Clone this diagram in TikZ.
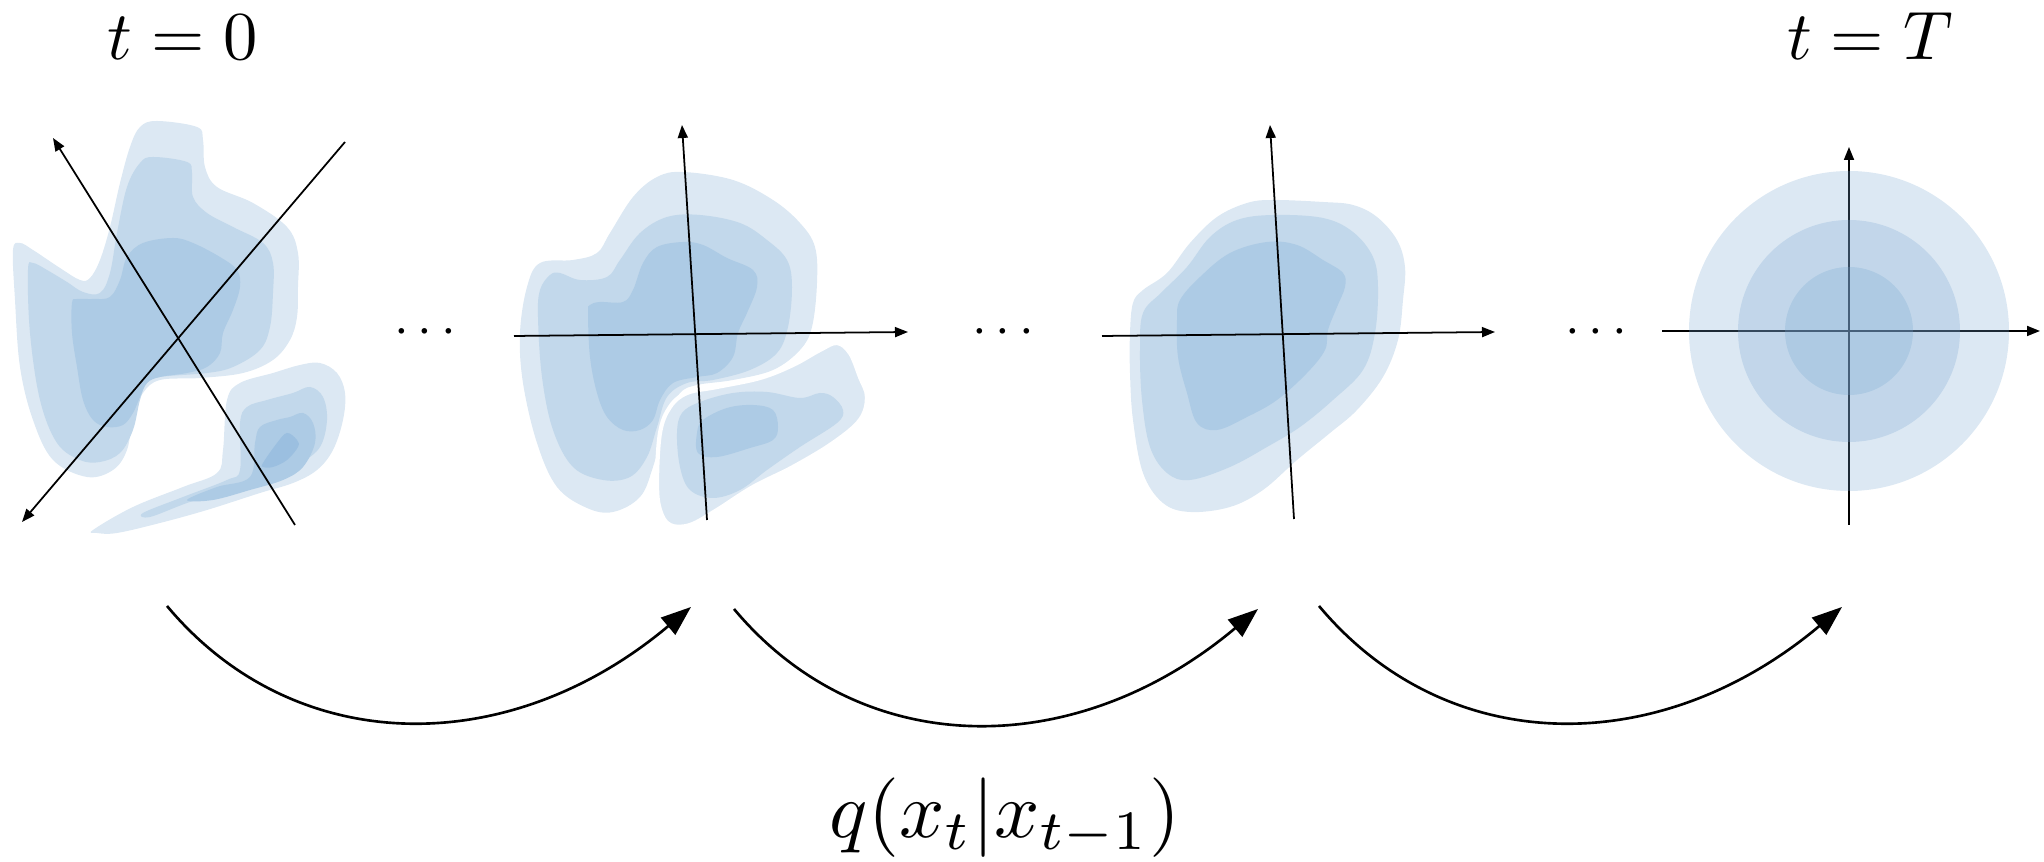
\documentclass[tikz,border=0pt]{standalone}
\usetikzlibrary{arrows.meta}
\definecolor{bA}{RGB}{220,232,243}
\definecolor{bB}{RGB}{194,216,235}
\definecolor{bC}{RGB}{173,203,229}
\definecolor{bD}{RGB}{155,191,224}
\definecolor{bL}{RGB}{119,165,208}
\begin{document}
\begin{tikzpicture}[x=0.01cm,y=-0.01cm,
  axis/.style={line width=0.5pt,-{Triangle[length=0.13cm,width=0.1cm]}},
  qarrow/.style={line width=0.75pt,-{Triangle[length=0.3cm,width=0.22cm]}},
  lab/.style={scale=1.95,inner sep=0pt},
  qlab/.style={scale=2.26,inner sep=0pt},
  dotsn/.style={scale=1.5,inner sep=0pt},
  ring/.style={fill=bL,fill opacity=0.257},
  blob/.style={smooth cycle,tension=0.6}]
\useasboundingbox (0,0) rectangle (2044,862);

% ---------- panel 1 ----------
\fill[bA] plot[blob] coordinates {(157,121)(197,127)(203,140)(205,167)(217,187)(253,203)(287,227)(298,253)(298,287)(297,317)(290,340)(273,360)(243,373)(200,378)(160,380)(143,393)(133,417)(127,450)(113,470)(87,477)(53,460)(33,420)(20,367)(15,300)(13,250)(20,243)(33,250)(60,268)(80,280)(90,278)(100,260)(110,227)(120,183)(130,147)(140,127)};
\fill[bB] plot[blob] coordinates {(153,157)(187,162)(192,173)(193,197)(207,213)(233,227)(263,243)(273,263)(273,293)(270,327)(260,350)(233,367)(207,373)(160,377)(147,383)(140,400)(133,430)(120,453)(100,462)(80,460)(57,443)(40,400)(30,333)(28,270)(33,263)(47,270)(67,282)(83,292)(100,293)(110,273)(117,233)(127,187)(140,163)};
\fill[bC] plot[blob] coordinates {(143,243)(173,238)(193,243)(220,257)(237,270)(240,287)(233,310)(223,333)(220,353)(207,367)(187,373)(160,377)(147,383)(140,397)(133,413)(123,425)(107,427)(93,420)(83,400)(77,367)(72,333)(72,303)(77,299)(93,299)(110,297)(120,280)(127,257)};
\fill[bA] plot[blob] coordinates {(93,530)(133,507)(183,487)(217,473)(223,450)(227,400)(240,383)(273,373)(300,365)(320,363)(337,373)(345,393)(343,420)(333,450)(317,470)(293,483)(260,493)(207,510)(160,523)(117,533)(97,533)};
\fill[bB] plot[blob] coordinates {(143,513)(183,497)(227,480)(240,470)(240,423)(247,407)(267,400)(293,393)(310,387)(323,397)(327,420)(320,447)(300,463)(267,477)(227,490)(187,503)(150,517)};
\fill[bC] plot[blob] coordinates {(187,500)(217,487)(250,477)(255,443)(260,427)(277,420)(290,417)(303,413)(313,423)(315,443)(303,467)(283,480)(250,490)(213,500)};
\fill[bD] plot[blob] coordinates {(263,463)(277,443)(287,433)(297,440)(298,447)(287,460)(273,467)(263,467)};
\coordinate (p1a) at (295,525); \coordinate (p1b) at (53,138);
\coordinate (p1c) at (345,142); \coordinate (p1d) at (22,522);
\draw[axis] (p1a) -- (p1b);
\draw[axis] (p1c) -- (p1d);

% ---------- panel 2 ----------
\fill[bA] plot[blob] coordinates {(520,333)(527,287)(540,263)(573,260)(597,253)(610,233)(633,197)(657,177)(683,172)(733,180)(773,200)(800,223)(815,247)(817,283)(812,327)(800,350)(773,370)(733,380)(697,385)(680,393)(667,417)(653,467)(640,497)(613,512)(587,508)(557,487)(537,443)(523,383)};
\fill[bB] plot[blob] coordinates {(538,317)(540,290)(550,275)(560,273)(580,280)(607,277)(620,260)(640,233)(667,217)(700,215)(740,223)(767,240)(787,260)(792,287)(788,327)(777,353)(750,370)(713,380)(687,383)(667,397)(657,427)(647,457)(630,477)(603,480)(573,467)(553,430)(542,377)};
\fill[bC] plot[blob] coordinates {(588,313)(590,305)(600,302)(623,302)(633,290)(643,263)(657,247)(683,242)(703,245)(727,258)(753,270)(757,287)(747,313)(738,333)(733,357)(717,373)(697,377)(673,383)(660,400)(653,420)(640,430)(623,430)(607,417)(597,393)(590,357)};
\filldraw[fill=bA,draw=white,line width=1.2pt] plot[blob] coordinates {(657,483)(660,433)(670,407)(687,393)(717,387)(760,378)(793,365)(820,350)(837,343)(850,353)(860,377)(867,397)(860,420)(833,443)(793,467)(753,487)(717,510)(690,525)(670,525)(660,510)};
\fill[bB] plot[blob] coordinates {(677,433)(682,413)(700,402)(733,393)(767,392)(800,398)(820,393)(833,397)(843,410)(837,423)(800,447)(767,470)(740,490)(713,498)(690,490)(680,467)};
\fill[bC] plot[blob] coordinates {(697,433)(703,420)(727,408)(753,405)(773,410)(778,427)(773,440)(750,448)(717,457)(698,453)};
\coordinate (p2a) at (707,520); \coordinate (p2b) at (682,125);
\coordinate (p2c) at (514,336); \coordinate (p2d) at (908,332);
\draw[axis] (p2a) -- (p2b);
\draw[axis] (p2c) -- (p2d);

% ---------- panel 3 ----------
\fill[bA] plot[blob] coordinates {(1130,333)(1133,303)(1143,290)(1167,273)(1190,243)(1217,217)(1247,203)(1273,200)(1323,202)(1353,205)(1377,217)(1397,240)(1405,267)(1403,300)(1398,340)(1383,377)(1357,410)(1330,433)(1297,460)(1263,490)(1230,507)(1190,512)(1163,503)(1143,473)(1133,420)(1130,373)};
\fill[bB] plot[blob] coordinates {(1140,350)(1143,313)(1162,292)(1187,267)(1210,237)(1237,220)(1273,215)(1323,218)(1353,232)(1373,257)(1378,287)(1375,333)(1363,370)(1333,400)(1300,427)(1267,447)(1230,467)(1190,480)(1167,473)(1150,447)(1142,400)};
\fill[bC] plot[blob] coordinates {(1177,320)(1180,300)(1200,277)(1230,253)(1267,242)(1297,245)(1323,260)(1343,273)(1345,287)(1337,307)(1328,330)(1325,350)(1307,373)(1277,400)(1247,417)(1217,430)(1197,423)(1187,393)(1178,357)};
\coordinate (p3a) at (1294,519); \coordinate (p3b) at (1270,125);
\coordinate (p3c) at (1102,336); \coordinate (p3d) at (1495,332);
\draw[axis] (p3a) -- (p3b);
\draw[axis] (p3c) -- (p3d);

% ---------- panel 4 ----------
\coordinate (c4) at (1849,331);
\coordinate (p4a) at (1849,525); \coordinate (p4b) at (1849,147);
\coordinate (p4c) at (1662,331); \coordinate (p4d) at (2040,331);
\draw[axis] (p4a) -- (p4b);
\draw[axis] (p4c) -- (p4d);
\fill[ring] (c4) circle[radius=160];
\fill[ring] (c4) circle[radius=111];
\fill[ring] (c4) circle[radius=64];

% ---------- dots ----------
\node[dotsn] (d1) at (425,333) {$\cdots$};
\node[dotsn] (d2) at (1003,333) {$\cdots$};
\node[dotsn] (d3) at (1596,333) {$\cdots$};

% ---------- labels ----------
\node[lab,anchor=base] (t0) at (183,60) {$t=0$};
\node[lab,anchor=base] (tT) at (1870,60) {$t=T$};
\node[qlab,anchor=base] (q) at (1005,838) {$q(x_t|x_{t-1})$};

% ---------- transition arrows ----------
\coordinate (a1s) at (167,606); \coordinate (a1e) at (691,607);
\coordinate (a2s) at (734,609); \coordinate (a2e) at (1258,609);
\coordinate (a3s) at (1319,606); \coordinate (a3e) at (1842,607);
\draw[qarrow] (a1s) .. controls +(128,153) and +(-182,153) .. (a1e);
\draw[qarrow] (a2s) .. controls +(128,153) and +(-182,153) .. (a2e);
\draw[qarrow] (a3s) .. controls +(128,153) and +(-182,153) .. (a3e);
\end{tikzpicture}
\end{document}
